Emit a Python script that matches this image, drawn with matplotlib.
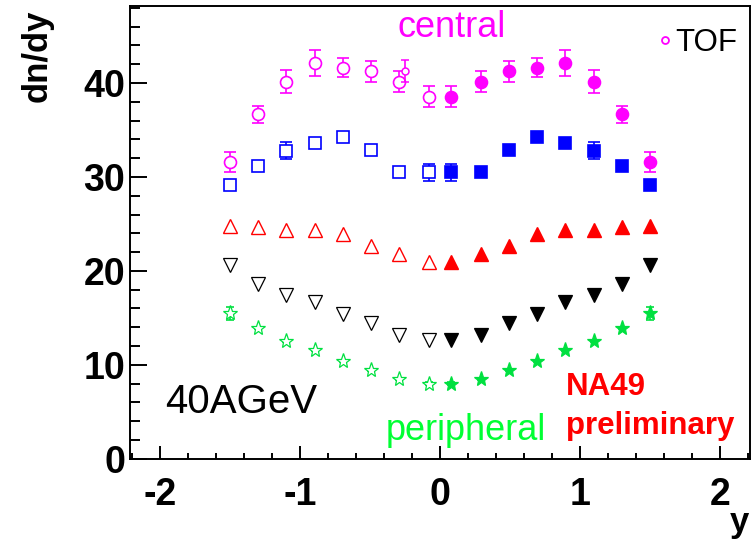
import matplotlib
matplotlib.use("Agg")
import matplotlib.pyplot as plt
from matplotlib.lines import Line2D
import numpy as np

plt.rcParams['font.family'] = ['Liberation Sans', 'DejaVu Sans']
plt.rcParams['axes.unicode_minus'] = False

# rapidity bin centres (forward hemisphere, measured); backward points are reflections
rapidity = [0.08, 0.29, 0.49, 0.69, 0.89, 1.10, 1.30, 1.50]

# dn/dy per centrality class, central -> peripheral
central = [38.55, 40.15, 41.25, 41.65, 42.15, 40.15, 36.65, 31.6]
central_err = [1.1, 1.15, 1.1, 1.05, 1.4, 1.2, 0.9, 1.1]
class2 = [30.5, 30.5, 32.85, 34.2, 33.6, 32.8, 31.2, 29.1]
class2_err = [0.9, 0.4, 0.4, 0.4, 0.4, 0.9, 0.4, 0.4]
class3 = [20.9, 21.8, 22.6, 23.9, 24.4, 24.4, 24.7, 24.75]
class3_err = [0.12, 0.12, 0.12, 0.12, 0.12, 0.12, 0.12, 0.12]
class4 = [12.6, 13.15, 14.4, 15.4, 16.65, 17.4, 18.65, 20.65]
class4_err = [0.12, 0.12, 0.12, 0.12, 0.12, 0.12, 0.12, 0.12]
peripheral = [8.0, 8.5, 9.45, 10.4, 11.6, 12.55, 13.95, 15.5]
peripheral_err = [0.12, 0.12, 0.12, 0.12, 0.12, 0.12, 0.12, 0.7]

# TOF measurement
tof_y = [-0.25]
tof_dndy = [41.3]
tof_err = [1.2]

x_ticks = [-2, -1, 0, 1, 2]
y_ticks = [0, 10, 20, 30, 40]

# data, errors, colour, marker, marker size, edge width, cap size
series = [
    (central, central_err, '#ff00ff', 'o', 8.6, 1.2, 4),
    (class2, class2_err, '#0000ff', 's', 8.4, 1.2, 4),
    (class3, class3_err, '#ff0000', '^', 9.5, 1.0, 0),
    (class4, class4_err, '#000000', 'v', 9.5, 0.9, 0),
    (peripheral, peripheral_err, '#00e040', '*', 11.0, 0.9, 3),
]

fig = plt.figure(figsize=(7.56, 5.39), dpi=100)
ax = fig.add_axes([130 / 756, 1 - 458.7 / 539, 620 / 756, 452.7 / 539])

yr = np.array(rapidity)
for vals, errs, col, mk, ms, mew, cap in series:
    for xs, face in ((yr, col), (-yr, 'white')):
        # error bars sit behind the markers
        ax.errorbar(xs, vals, yerr=errs, fmt='none', ecolor=col, elinewidth=1.2,
                    capsize=cap, capthick=1.2, zorder=2)
        ax.plot(xs, vals, linestyle='none', marker=mk, ms=ms, mec=col, mfc=face,
                mew=mew, zorder=3)

ax.errorbar(tof_y, tof_dndy, yerr=tof_err, fmt='o', color='#ff00ff', ms=5,
            mfc='white', mec='#ff00ff', mew=1.1, elinewidth=1.2, capsize=3,
            capthick=1.2, zorder=4)

tof_handle = Line2D([], [], linestyle='none', marker='o', ms=5, mfc='white',
                    mec='#ff00ff', mew=1.3)
ax.legend([tof_handle], ['TOF'], loc='upper left', bbox_to_anchor=(0.850, 0.952),
          frameon=False, fontsize=22.5, handlelength=0.5, handletextpad=0.08,
          borderpad=0, borderaxespad=0)

ax.set_xlim(-2.214, 2.214)
ax.set_ylim(0, 48.2)
ax.set_xticks(x_ticks)
ax.set_xticklabels([str(v) for v in x_ticks])
ax.set_yticks(y_ticks)
ax.set_yticklabels([str(v) for v in y_ticks])
ax.set_xticks(np.arange(-2.2, 2.21, 0.2), minor=True)
ax.set_yticks(np.arange(0, 48.1, 2), minor=True)

for s in ax.spines.values():
    s.set_linewidth(1.4)
ax.tick_params(axis='both', which='both', direction='in', top=False, right=False,
               width=1.4)
ax.tick_params(axis='y', which='major', length=12, pad=3.5)
ax.tick_params(axis='y', which='minor', length=7)
ax.tick_params(axis='x', which='major', length=9.5, pad=13)
ax.tick_params(axis='x', which='minor', length=4.5)
for lab in ax.get_xticklabels() + ax.get_yticklabels():
    lab.set_fontweight('bold')
    lab.set_fontsize(27)

ax.text(-0.307, 44.9, 'central', color='#ff00ff', fontsize=26, va='baseline', ha='left')
ax.text(-0.39, 2.0, 'peripheral', color='#00ff33', fontsize=26, va='baseline', ha='left')
ax.text(-1.964, 4.86, '40AGeV', color='black', fontsize=29, va='baseline', ha='left')
ax.text(0.9, 6.78, 'NA49', color='#ff0000', fontsize=22.5, fontweight='bold',
        va='baseline', ha='left')
ax.text(0.9, 2.6, 'preliminary', color='#ff0000', fontsize=22.5, fontweight='bold',
        va='baseline', ha='left')

fig.text(37 / 756, 1 - 10 / 539, 'dn/dy', rotation=90, fontsize=25, fontweight='bold',
         ha='center', va='top')
fig.text(749 / 756, 1 - 532 / 539, 'y', fontsize=25, fontweight='bold',
         ha='right', va='baseline')

fig.savefig('out.png', dpi=100)
